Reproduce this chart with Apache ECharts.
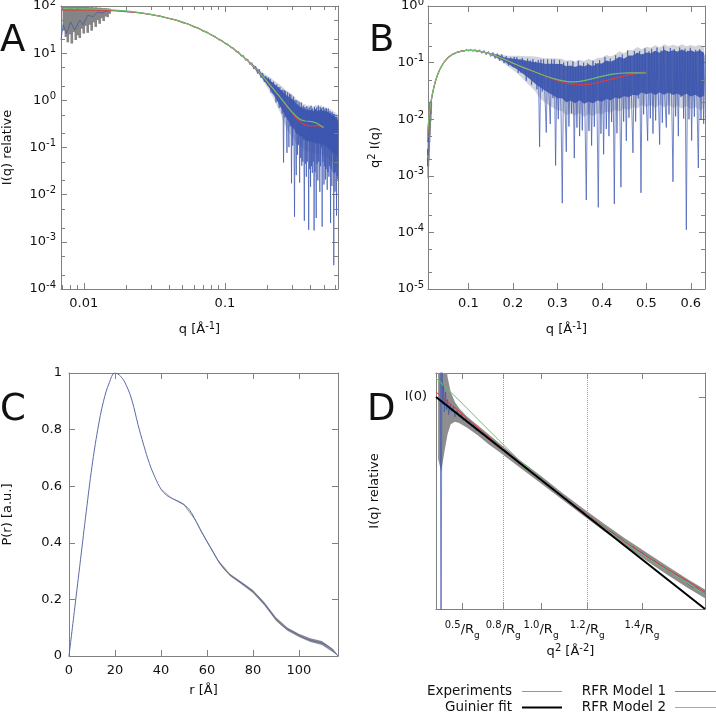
<!DOCTYPE html>
<html><head><meta charset="utf-8">
<script src="https://cdn.jsdelivr.net/npm/echarts@6/dist/echarts.min.js"></script>
<style>html,body{margin:0;padding:0;background:#fff}#c{width:716px;height:714px}</style>
</head><body><div id="c"></div>
<script>
// ---------------- DATA ----------------
// Panel A/B : experimental scattering curve I(q)
const qExp = [0.0069,0.00715,0.00755,0.00806,0.00864,0.00937,0.00989,0.0107,0.0116,0.0125,
0.0135,0.0145,0.0165,0.02,0.025,0.03,0.035,0.04,0.045,0.05,
0.055,0.06,0.065,0.07,0.075,0.08,0.085,0.09,0.095,0.1,
0.105,0.11,0.115,0.12,0.125,0.13,0.135,0.14,0.145,0.15,
0.155,0.16,0.165,0.17,0.175,0.18,0.185,0.19,0.195,
0.200,0.203,0.206,0.209,0.212,0.215,0.218,0.221,0.224,0.227,
0.230,0.233,0.236,0.239,0.242,0.245,0.248,0.251,0.254,0.257,
0.260,0.263,0.266,0.269,0.272,0.275,0.278,0.281,0.284,0.287,
0.290,0.293,0.296,0.299,0.302,0.305,0.308,0.311,0.314,0.317,
0.320,0.323,0.326,0.329,0.332,0.335,0.338,0.341,0.344,0.347,
0.350,0.353,0.356,0.359,0.362,0.365,0.368,0.371,0.374,0.377,
0.380,0.383,0.386,0.389,0.392,0.395,0.398,0.401,0.404,0.407,
0.410,0.413,0.416,0.419,0.422,0.425,0.428,0.431,0.434,0.437,
0.440,0.443,0.446,0.449,0.452,0.455,0.458,0.461,0.464,0.467,
0.470,0.473,0.476,0.479,0.482,0.485,0.488,0.491,0.494,0.497,
0.500,0.503,0.506,0.509,0.512,0.515,0.518,0.521,0.524,0.527,
0.530,0.533,0.536,0.539,0.542,0.545,0.548,0.551,0.554,0.557,
0.560,0.563,0.566,0.569,0.572,0.575,0.578,0.581,0.584,0.587,
0.590,0.593,0.596,0.599,0.602,0.605,0.608,0.611,0.614,0.617,
0.620,0.623,0.626,0.629,0.632];
const iExp = [19,40,26,46,31,50,40,64,59,74,
71,78,80,75,72,65,61,54,51,44,
42,36,34.5,29,28,23.8,22.9,19.3,18.9,15.9,
15.6,13,13,10.6,10.8,8.6,9.0,7.0,7.5,5.7,
6.3,4.6,5.3,3.7,4.6,3.0,3.8,2.45,3.25,
2.1,3.05,1.97,2.85,1.46,2.36,1.4,2.48,1.34,2.07,
0.9,2.16,0.97,1.91,0.69,1.92,0.74,1.64,0.52,1.68,
0.048,1.64,0.435,1.58,0.36,0.077,1.48,0.355,0.102,1.38,
0.28,1.33,0.0174,1.06,0.11,1.2,0.175,0.0034,1.02,0.2,
0.026,1.0,0.07,0.75,0.115,0.94,0.018,0.72,0.06,0.9,
0.041,0.7,0.05,0.77,0.095,0.0028,0.72,0.045,0.61,0.024,
0.75,0.05,0.66,0.119,0.0018,0.71,0.035,0.59,0.0147,0.76,
0.04,0.62,0.029,0.67,0.05,0.58,0.00174,0.725,0.03,0.64,
0.116,0.0032,0.7,0.045,0.58,0.02,0.78,0.05,0.6,0.086,
0.0115,0.72,0.04,0.63,0.1,0.68,0.0021,0.59,0.05,0.72,
0.083,0.0164,0.62,0.04,0.67,0.021,0.58,0.035,0.67,0.102,
0.0127,0.575,0.03,0.66,0.073,0.024,0.53,0.04,0.59,0.081,
0.0025,0.545,0.035,0.46,0.0153,0.56,0.074,0.46,0.03,0.51,
0.00032,0.46,0.028,0.51,0.0116,0.42,0.03,0.45,0.055,0.0036,
0.45,0.025,0.385,0.021,0.34];
// envelope of the dense scatter (blue) and of the error bars (grey), I units
const envQ = [0.15,0.16,0.17,0.18,0.19,0.20,0.21,0.22,0.23,0.24,0.25,0.26,0.27,0.28,0.29,0.30,0.31,0.32,0.33,0.34,0.35,0.36,0.37,0.38,0.39,0.40,0.41,0.42,0.43,0.44,0.45,0.46,0.47,0.48,0.49,0.50,0.51,0.52,0.53,0.54,0.55,0.56,0.57,0.58,0.59,0.60,0.61,0.62,0.63];
const denseLo = [6.1,4.95,4.0,3.25,2.6,2.1,1.72,1.35,1.08,0.86,0.68,0.55,0.45,0.374,0.315,0.26,0.245,0.194,0.195,0.166,0.177,0.144,0.149,0.132,0.14,0.127,0.135,0.123,0.131,0.119,0.127,0.115,0.123,0.114,0.123,0.11,0.113,0.099,0.106,0.093,0.098,0.085,0.088,0.076,0.081,0.07,0.073,0.063,0.065];
const denseHi = [6.5,5.45,4.6,3.85,3.3,2.95,2.6,2.34,2.03,1.82,1.63,1.47,1.31,1.22,1.13,1.05,0.98,0.84,0.82,0.72,0.73,0.656,0.682,0.6,0.64,0.605,0.645,0.584,0.611,0.653,0.578,0.634,0.603,0.656,0.574,0.605,0.563,0.598,0.531,0.576,0.512,0.529,0.484,0.504,0.447,0.458,0.414,0.432,0.376];
const errEnvLo = [6.0,4.8,3.8,3.0,2.35,1.85,1.45,1.12,0.85,0.65,0.5,0.35,0.28,0.23,0.19,0.16,0.145,0.115,0.115,0.1,0.105,0.085,0.09,0.079,0.084,0.076,0.081,0.074,0.079,0.071,0.076,0.069,0.074,0.068,0.074,0.066,0.068,0.059,0.064,0.056,0.059,0.051,0.053,0.046,0.049,0.042,0.044,0.038,0.039];
const errEnvHi = [6.65,5.65,4.85,4.15,3.65,3.3,3.0,2.7,2.45,2.25,2.05,1.84,1.64,1.52,1.41,1.31,1.22,1.05,1.02,0.9,0.91,0.82,0.85,0.75,0.8,0.76,0.81,0.73,0.76,0.82,0.72,0.79,0.75,0.82,0.72,0.76,0.7,0.75,0.66,0.72,0.64,0.66,0.6,0.63,0.56,0.57,0.52,0.54,0.47];
// low-q error bars (grey)
const errQ  = [0.00723,0.00747,0.00771,0.00797,0.00823,0.00851,0.00878,0.00907,0.00937,0.00968,0.01,0.01033,0.01067,0.01102,0.01138,0.01176,0.01215,0.01255,0.01296,0.01339,0.01383,0.01429,0.01476,0.01525];
const errLo = [30,22,17,25,16,28,19,24,21,33,26,38,27,40,30,45,36,50,42,55,48,60,58,68];
const errHi = [110,105,110,102,108,100,104,98,101,96,99,95,97,94,95,93,94,92,92,91,90,90,89,88];
// RFR models I(q)
const modelQ = [0.0069,0.008,0.01,0.0125,0.015,0.0175,0.02,0.025,0.03,0.035,0.04,0.045,0.05,0.055,0.06,0.065,0.07,0.075,0.08,0.085,0.09,0.095,0.1,0.11,0.12,0.13,0.14,0.15,0.16,0.17,0.18,0.19,0.2,0.21,0.22,0.23,0.24,0.25,0.26,0.27,0.28,0.29,0.3,0.31,0.32,0.33,0.34,0.35,0.36,0.37,0.38,0.39,0.4,0.42,0.44,0.46,0.48,0.5];
const model1 = [83,83,82.5,81.5,80.3,78.5,76.5,71.5,66,60.5,55,50,45.5,41,37,33.3,30,27.1,24.5,22.1,20,18.2,16.5,13.6,11.2,9.2,7.6,6.3,5.2,4.3,3.55,2.95,2.45,2.06,1.74,1.48,1.27,1.09,0.94,0.81,0.70,0.61,0.535,0.475,0.425,0.385,0.355,0.33,0.315,0.302,0.295,0.29,0.288,0.287,0.287,0.286,0.282,0.275];
const model2 = [88,87.8,87,85.5,83.5,81,78.5,72.5,66.5,60.5,55,50,45.5,41,37,33.3,30,27.1,24.5,22.1,20,18.2,16.5,13.6,11.2,9.2,7.6,6.3,5.2,4.3,3.55,2.95,2.45,2.06,1.74,1.48,1.27,1.09,0.94,0.81,0.71,0.625,0.555,0.5,0.455,0.42,0.395,0.38,0.37,0.365,0.362,0.36,0.358,0.35,0.335,0.31,0.285,0.262];
// Panel A/B ticks
const aXMinor = [0.007,0.008,0.009,0.02,0.03,0.04,0.05,0.06,0.07,0.08,0.09,0.2,0.3,0.4,0.5,0.6];
const aYMinor = [2e-4,5e-4,2e-3,5e-3,0.02,0.05,0.2,0.5,2,5,20,50];
const bXTicks = [0.1,0.2,0.3,0.4,0.5,0.6];
const bYMinor = [2e-5,5e-5,2e-4,5e-4,2e-3,5e-3,0.02,0.05,0.2,0.5];

// Panel C : P(r)
const cR = [0,2.5,5,7.5,10,12.5,15,17.5,20,22.5,25,27.5,30,32.5,35,37.5,40,42.5,45,47.5,50,52.5,55,57.5,60,62.5,65,67.5,70,72.5,75,77.5,80,82.5,85,87.5,90,92.5,95,97.5,100,102.5,105,107.5,110,112.5,115,117];
const cP = [0,0.17,0.34,0.51,0.67,0.8,0.9,0.965,1.0,0.988,0.955,0.9,0.818,0.745,0.68,0.63,0.59,0.568,0.556,0.547,0.535,0.515,0.48,0.44,0.405,0.37,0.335,0.307,0.287,0.272,0.258,0.244,0.228,0.208,0.184,0.158,0.131,0.11,0.095,0.085,0.073,0.063,0.056,0.051,0.046,0.036,0.018,0];
const cBandR  = [40,45,50,55,60,65,70,75,80,85,90,95,100,105,110,115,117];
const cBandLo = [0.589,0.5545,0.533,0.4775,0.402,0.3315,0.283,0.2535,0.223,0.1785,0.125,0.089,0.067,0.0495,0.039,0.012,0];
const cBandHi = [0.591,0.5575,0.537,0.4825,0.408,0.3385,0.291,0.2625,0.233,0.1895,0.137,0.101,0.079,0.0625,0.053,0.024,0.002];
const cXTicks = [0,20,40,60,80,100];

// Panel D : Guinier plot, x = (q Rg)^2, y = ln(I/I0)
const dX = [0.040,0.048,0.056,0.064,0.072,0.080,0.090,0.100,0.110,0.120,0.135,0.150,0.165,0.180,0.200,0.220,0.240,0.260,0.280,0.300,0.320,0.340,0.360,0.380,0.400,0.430,0.460,0.490,0.520,0.550,0.580,0.610,0.640,0.670,0.700,0.730,0.760,0.790,0.820,0.850,0.880,0.910,0.940,0.970,1.000,1.030,1.060,1.090,1.120,1.150,1.180,1.210,1.240,1.270,1.300,1.330,1.360,1.400,1.440,1.480,1.520,1.560,1.600,1.640,1.680,1.720,1.760,1.800,1.840,1.880,1.920,1.960,2.000,2.040,2.080,2.120,2.160,2.200,2.240,2.280,2.320,2.360,2.400,2.440,2.480,2.520,2.560];
const dY = [0.20,-1.20,0.16,-0.03,0.05,-0.06,0.02,-0.05,-0.01,-0.07,-0.03,-0.06,-0.04,-0.08,-0.055,-0.08,-0.07,-0.095,-0.085,-0.105,-0.10,-0.12,-0.11,-0.135,-0.128,-0.148,-0.15,-0.168,-0.17,-0.188,-0.19,-0.207,-0.21,-0.228,-0.23,-0.248,-0.25,-0.268,-0.27,-0.288,-0.29,-0.307,-0.31,-0.328,-0.33,-0.348,-0.35,-0.367,-0.37,-0.387,-0.39,-0.408,-0.41,-0.428,-0.43,-0.447,-0.45,-0.46,-0.485,-0.487,-0.50,-0.513,-0.525,-0.538,-0.545,-0.56,-0.57,-0.585,-0.598,-0.603,-0.62,-0.626,-0.64,-0.654,-0.66,-0.675,-0.682,-0.70,-0.71,-0.715,-0.73,-0.738,-0.752,-0.765,-0.768,-0.783,-0.793];
const dBandX  = [0.02,0.05,0.08,0.11,0.14,0.18,0.22,0.3,0.4,0.5,0.6,0.8,1.0,1.2,1.4,1.6,1.8,2.0,2.2,2.4,2.56];
const dBandLo = [-0.25,-0.3,-0.22,-0.15,-0.11,-0.1,-0.105,-0.125,-0.155,-0.19,-0.22,-0.285,-0.348,-0.413,-0.477,-0.54,-0.6,-0.658,-0.715,-0.77,-0.81];
const dBandHi = [0.3,0.3,0.2,0.08,0.02,-0.02,-0.045,-0.08,-0.115,-0.15,-0.185,-0.255,-0.318,-0.385,-0.449,-0.51,-0.57,-0.625,-0.68,-0.735,-0.775];
const dModelX = [0,0.2,0.4,0.6,0.8,1.0,1.2,1.4,1.6,1.8,2.0,2.2,2.4,2.56];
const dModel1 = [0.02,-0.05,-0.125,-0.196,-0.265,-0.332,-0.398,-0.462,-0.525,-0.585,-0.64,-0.693,-0.742,-0.785];
const dModel2 = [0.076,-0.005,-0.09,-0.175,-0.258,-0.33,-0.4,-0.465,-0.527,-0.588,-0.645,-0.698,-0.75,-0.795];
const dGuinierX = [0, 2.56];
const dGuinierY = [0, -0.8533];
const dTickQ = [0.5, 0.8, 1.0, 1.2, 1.4];   // q in units of 1/Rg
const dDotted = [0.8, 1.2];

// ---------------- STYLE ----------------
const FONT = 'DejaVu Sans';
const AXC = '#808080';
const TXT = '#111111';
const BLUE = '#3c55b0';
const RED = '#e0393e';
const GREEN = '#6cc070';

const supRich = {
  b: {fontFamily: FONT, fontSize: 13, lineHeight: 18, color: TXT},
  sup: {fontFamily: FONT, fontSize: 10, lineHeight: 10, verticalAlign: 'top', color: TXT},
  sub: {fontFamily: FONT, fontSize: 9, lineHeight: 9, verticalAlign: 'bottom', color: TXT},
  n: {fontFamily: FONT, fontSize: 13, lineHeight: 20, color: TXT}
};
const nameStyle = {fontFamily: FONT, fontSize: 13, color: TXT, lineHeight: 18, rich: supRich};

function mkAxis(base, opts) {
  opts = opts || {};
  const a = Object.assign({
    axisLine: {show: true, onZero: false, lineStyle: {color: AXC, width: 1}},
    axisTick: {show: true, inside: true, length: 6, lineStyle: {color: AXC, width: 1}},
    axisLabel: {show: false},
    splitLine: {show: false},
    minorTick: {show: false},
    minorSplitLine: {show: false}
  }, base);
  if (opts.tickValues) a.axisTick.customValues = opts.tickValues;
  if (opts.label) a.axisLabel = Object.assign({show: true, color: TXT, fontFamily: FONT, fontSize: 13}, opts.label);
  if (a.name) { a.nameLocation = 'middle'; a.nameTextStyle = nameStyle; }
  return a;
}
const powFmt = v => '{b|10}{sup|' + Math.round(Math.log10(v)) + '}';
const decFmt = v => String(parseFloat(Number(v).toPrecision(2)));
const dTickPos = dTickQ.map(v => v * v);
const dFmt = v => {
  let i = 0, best = 1e9;
  dTickPos.forEach((p, k) => { if (Math.abs(p - v) < best) { best = Math.abs(p - v); i = k; } });
  return '{sup|' + dTickQ[i].toFixed(1) + '}{n|/R}{sub|g}';
};

const xAxis = [
  mkAxis({gridIndex: 0, type: 'log', logBase: 10, min: 0.0069, max: 0.632, position: 'bottom', name: 'q [Å{sup|-1}]', nameGap: 32},
         {label: {margin: 8, showMinLabel: false, showMaxLabel: false, formatter: decFmt}}),
  mkAxis({gridIndex: 0, type: 'log', logBase: 10, min: 0.0069, max: 0.632, position: 'top'}),
  mkAxis({gridIndex: 1, type: 'value', min: 0.009, max: 0.632, position: 'bottom', name: 'q [Å{sup|-1}]', nameGap: 32},
         {tickValues: bXTicks, label: {margin: 8, customValues: bXTicks, formatter: v => Number(v).toFixed(1)}}),
  mkAxis({gridIndex: 1, type: 'value', min: 0.009, max: 0.632, position: 'top'}, {tickValues: bXTicks}),
  mkAxis({gridIndex: 2, type: 'value', min: 0, max: 117, position: 'bottom', name: 'r [Å]', nameGap: 26},
         {tickValues: cXTicks, label: {margin: 8, customValues: cXTicks}}),
  mkAxis({gridIndex: 2, type: 'value', min: 0, max: 117, position: 'top'}, {tickValues: cXTicks}),
  mkAxis({gridIndex: 3, type: 'value', min: 0, max: 2.56, position: 'bottom', name: 'q{sup|2} [Å{sup|-2}]', nameGap: 34},
         {tickValues: dTickPos, label: {margin: 11, customValues: dTickPos, formatter: dFmt, rich: supRich}}),
  mkAxis({gridIndex: 3, type: 'value', min: 0, max: 2.56, position: 'top'}, {tickValues: dTickPos})
];
const yAxis = [
  mkAxis({gridIndex: 0, type: 'log', logBase: 10, min: 1e-4, max: 100, position: 'left', name: 'I(q) relative', nameGap: 44},
         {label: {margin: 5, formatter: powFmt, rich: supRich}}),
  mkAxis({gridIndex: 0, type: 'log', logBase: 10, min: 1e-4, max: 100, position: 'right'}),
  mkAxis({gridIndex: 1, type: 'log', logBase: 10, min: 1e-5, max: 1, position: 'left', name: 'q{sup|2} I(q)', nameGap: 43},
         {label: {margin: 4, formatter: powFmt, rich: supRich}}),
  mkAxis({gridIndex: 1, type: 'log', logBase: 10, min: 1e-5, max: 1, position: 'right'}),
  mkAxis({gridIndex: 2, type: 'value', min: 0, max: 1, interval: 0.2, position: 'left', name: 'P(r) [a.u.]', nameGap: 52},
         {label: {margin: 7}}),
  mkAxis({gridIndex: 2, type: 'value', min: 0, max: 1, interval: 0.2, position: 'right'}),
  mkAxis({gridIndex: 3, type: 'value', min: -0.8533, max: 0.0966, position: 'left', name: 'I(q) relative', nameGap: 52},
         {tickValues: [0], label: {margin: 9, customValues: [0], formatter: () => 'I(0)'}}),
  mkAxis({gridIndex: 3, type: 'value', min: -0.8533, max: 0.0966, position: 'right'}, {tickValues: [0]})
];

// ---------------- SERIES HELPERS ----------------
function lineS(name, gi, data, color, width, z, extra) {
  return Object.assign({
    type: 'line', name: name, xAxisIndex: gi * 2, yAxisIndex: gi * 2, data: data,
    symbol: 'none', showSymbol: false, clip: true, z: z, silent: true,
    lineStyle: {color: color, width: width}, itemStyle: {color: color},
    emphasis: {disabled: true}
  }, extra || {});
}
function bandS(gi, xs, lo, hi, color, z) {
  return {
    type: 'custom', name: 'band', xAxisIndex: gi * 2, yAxisIndex: gi * 2, clip: true, silent: true, z: z,
    data: [[xs[1], hi[1]]],
    renderItem: (params, api) => {
      const pts = [];
      for (let i = 0; i < xs.length; i++) pts.push(api.coord([xs[i], hi[i]]));
      for (let i = xs.length - 1; i >= 0; i--) pts.push(api.coord([xs[i], lo[i]]));
      return {type: 'polygon', shape: {points: pts}, style: {fill: color}};
    }
  };
}
function errS(gi, xs, lo, hi, color, z) {
  return {
    type: 'custom', name: 'err', xAxisIndex: gi * 2, yAxisIndex: gi * 2, clip: true, silent: true, z: z,
    data: xs.map((x, i) => [x, lo[i], hi[i]]),
    encode: {x: 0, y: [1, 2]},
    renderItem: (params, api) => {
      const a = api.coord([api.value(0), api.value(1)]);
      const b = api.coord([api.value(0), api.value(2)]);
      return {type: 'line', shape: {x1: a[0], y1: a[1], x2: b[0], y2: b[1]}, style: {stroke: color, lineWidth: 2.6}};
    }
  };
}
function tickS(gi, vals, dir, ref, len) {
  return {
    type: 'custom', name: 'ticks', xAxisIndex: gi * 2, yAxisIndex: gi * 2, silent: true, clip: false, z: 6,
    data: vals.map(v => dir === 'x' ? [v, ref] : [ref, v]),
    renderItem: (params, api) => {
      const cs = params.coordSys;
      const p = api.coord([api.value(0), api.value(1)]);
      const st = {stroke: AXC, lineWidth: 1};
      if (dir === 'x') {
        const x = Math.round(p[0]) + 0.5;
        return {type: 'group', children: [
          {type: 'line', shape: {x1: x, y1: cs.y + cs.height, x2: x, y2: cs.y + cs.height - len}, style: st},
          {type: 'line', shape: {x1: x, y1: cs.y, x2: x, y2: cs.y + len}, style: st}]};
      }
      const y = Math.round(p[1]) + 0.5;
      return {type: 'group', children: [
        {type: 'line', shape: {x1: cs.x, y1: y, x2: cs.x + len, y2: y}, style: st},
        {type: 'line', shape: {x1: cs.x + cs.width, y1: y, x2: cs.x + cs.width - len, y2: y}, style: st}]};
    }
  };
}

// ---------------- BUILD DATA TABLES ----------------
const sq = q => q * q;
const expA = qExp.map((q, i) => [q, iExp[i]]);
const expB = qExp.map((q, i) => [q, sq(q) * iExp[i]]);
const m1A = modelQ.map((q, i) => [q, model1[i]]);
const m2A = modelQ.map((q, i) => [q, model2[i]]);
const m1B = modelQ.map((q, i) => [q, sq(q) * model1[i]]);
const m2B = modelQ.map((q, i) => [q, sq(q) * model2[i]]);
const errLoB = errQ.map((q, i) => sq(q) * errLo[i]);
const errHiB = errQ.map((q, i) => sq(q) * errHi[i]);
const denseLoB = envQ.map((q, i) => sq(q) * denseLo[i]);
const denseHiB = envQ.map((q, i) => sq(q) * denseHi[i]);
const errEnvLoB = envQ.map((q, i) => sq(q) * errEnvLo[i]);
const errEnvHiB = envQ.map((q, i) => sq(q) * errEnvHi[i]);
const pC = cR.map((r, i) => [r, cP[i]]);
const expD = dX.map((x, i) => [x, dY[i]]);
const m1D = dModelX.map((x, i) => [x, dModel1[i]]);
const m2D = dModelX.map((x, i) => [x, dModel2[i]]);
const gD = dGuinierX.map((x, i) => [x, dGuinierY[i]]);

const GREYBAND = 'rgba(165,170,185,0.5)';
const BLUEBAND = 'rgba(52,78,168,0.85)';
const expLine = {lineStyle: {color: BLUE, width: 1, opacity: 0.7}};

const series = [
  // A
  errS(0, errQ, errLo, errHi, '#858585', 1),
  bandS(0, envQ, errEnvLo, errEnvHi, GREYBAND, 1),
  bandS(0, envQ, denseLo, denseHi, BLUEBAND, 2),
  lineS('Experiments', 0, expA, BLUE, 1, 3, expLine),
  lineS('RFR Model 1', 0, m1A, RED, 1.2, 4),
  lineS('RFR Model 2', 0, m2A, GREEN, 1.2, 4),
  tickS(0, aXMinor, 'x', 1, 4),
  tickS(0, aYMinor, 'y', 0.1, 4),
  // B
  errS(1, errQ, errLoB, errHiB, '#858585', 1),
  bandS(1, envQ, errEnvLoB, errEnvHiB, GREYBAND, 1),
  bandS(1, envQ, denseLoB, denseHiB, BLUEBAND, 2),
  lineS('Experiments', 1, expB, BLUE, 1, 3, expLine),
  lineS('RFR Model 1', 1, m1B, RED, 1.2, 4),
  lineS('RFR Model 2', 1, m2B, GREEN, 1.2, 4),
  tickS(1, bYMinor, 'y', 0.3, 4),
  // C
  bandS(2, cBandR, cBandLo, cBandHi, '#8c8c8c', 1),
  lineS('Experiments', 2, pC, '#5b6aa8', 1, 3, {smooth: 0.4}),
  // D
  bandS(3, dBandX, dBandLo, dBandHi, '#8e8e8e', 1),
  lineS('Experiments', 3, expD, BLUE, 1, 3, expLine),
  lineS('RFR Model 1', 3, m1D, RED, 1, 4),
  lineS('RFR Model 2', 3, m2D, GREEN, 1, 4),
  lineS('Guinier fit', 3, gD, '#000000', 2, 5, {
    markLine: {silent: true, symbol: ['none', 'none'], label: {show: false},
      lineStyle: {color: '#9a9a9a', type: 'dotted', width: 1},
      data: dDotted.map(v => ({xAxis: v * v}))}
  })
];

const letter = (t, x, y) => ({type: 'text', x: x, y: y, silent: true,
  style: {text: t, font: '37px "DejaVu Sans"', fill: '#111', verticalAlign: 'middle', align: 'left'}});
const legTxt = (t, x, y) => ({type: 'text', x: x, y: y, silent: true,
  style: {text: t, font: '13.5px "DejaVu Sans"', fill: TXT, verticalAlign: 'middle', align: 'right'}});
const legLine = (x1, x2, y, c, w) => ({type: 'line', silent: true, shape: {x1: x1, y1: y, x2: x2, y2: y}, style: {stroke: c, lineWidth: w}});

const option = {
  animation: false,
  backgroundColor: '#ffffff',
  grid: [
    {left: 61, top: 6, width: 277, height: 283, containLabel: false, outerBoundsMode: 'none'},
    {left: 428, top: 6, width: 277, height: 283, containLabel: false, outerBoundsMode: 'none'},
    {left: 69, top: 373, width: 269, height: 283, containLabel: false, outerBoundsMode: 'none'},
    {left: 436, top: 373, width: 269, height: 236, containLabel: false, outerBoundsMode: 'none'}
  ],
  xAxis: xAxis,
  yAxis: yAxis,
  series: series,
  graphic: [
    letter('A', 0, 41), letter('B', 369, 41), letter('C', 0, 410), letter('D', 367, 410),
    legTxt('Experiments', 512, 691), legLine(522, 562, 691.5, '#7f92d2', 1),
    legTxt('Guinier fit', 512, 707), legLine(522, 562, 707.5, '#000', 2),
    legTxt('RFR Model 1', 666, 691), legLine(675, 716, 691.5, '#e06060', 1),
    legTxt('RFR Model 2', 666, 707), legLine(675, 716, 707.5, '#80c880', 1)
  ]
};
const chart = echarts.init(document.getElementById('c'), null, {renderer: 'canvas'});
chart.setOption(option);
</script></body></html>
